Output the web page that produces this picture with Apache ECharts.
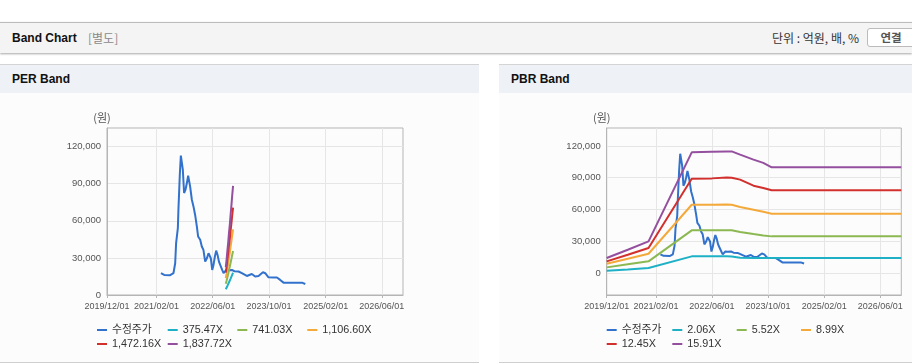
<!DOCTYPE html>
<html><head><meta charset="utf-8">
<script src="https://cdn.jsdelivr.net/npm/echarts@6/dist/echarts.min.js"></script>
<style>
body{margin:0;width:912px;height:364px;position:relative;background:#fff;overflow:hidden;font-family:"Liberation Sans",Arial,"Noto Sans CJK KR",sans-serif}
#topbar{position:absolute;left:0;top:22px;width:912px;height:30px;background:#f4f4f4;border-top:1px solid #bcbcbc;box-shadow:0 1px 2px rgba(0,0,0,0.35)}
#ttl{position:absolute;left:12px;top:0;line-height:30px;font-size:12px;font-weight:bold;color:#111}
#sep{position:absolute;left:88px;top:0;line-height:30px;font-size:12px;color:#8a8a8a;font-family:"Noto Sans CJK KR",sans-serif}
#unit{position:absolute;right:53px;top:0;line-height:30px;font-size:12px;color:#333;font-family:"Noto Sans CJK KR",sans-serif}
#btn{position:absolute;left:867px;top:5px;width:48px;height:19px;border:1px solid #bbb;border-radius:3px;background:#fff;box-sizing:border-box;text-align:center;line-height:17px;font-size:11.5px;font-weight:bold;color:#555;font-family:"Noto Sans CJK KR",sans-serif}
.phead{position:absolute;top:64px;height:28px;background:#eef2f7;border-top:1px solid #d4d4d4}
.phead span{position:absolute;left:12px;top:0;line-height:28px;font-size:12px;font-weight:bold;color:#111}
.pbody{position:absolute;top:93px;height:269px;background:#fcfcfc;border-bottom:1px solid #cfcfcf}
</style></head>
<body>
<div id="topbar"><span id="ttl">Band Chart</span><span id="sep">[별도]</span><span id="unit">단위 : 억원, 배, %</span><div id="btn">연결</div></div>
<div class="phead" style="left:0;width:479px"><span>PER Band</span></div>
<div class="phead" style="left:499px;width:413px"><span>PBR Band</span></div>
<div class="pbody" style="left:0;width:479px"><div id="per" style="width:479px;height:269px"></div></div>
<div class="pbody" style="left:499px;width:413px"><div id="pbr" style="width:413px;height:269px"></div></div>
<script>
// ---- data ----
const xTickDates = ['2019-12-01','2021-02-01','2022-06-01','2023-10-01','2025-02-01','2026-06-01'];
const xMin = '2019-12-01';
const xMax = '2026-12-01';
const yTicks = [0, 30000, 60000, 90000, 120000];

const priceName = '수정주가';
const priceDates = ['2021-03-11','2021-04-08','2021-05-30','2021-06-27','2021-07-12','2021-07-20','2021-08-04','2021-08-09','2021-08-21','2021-08-30','2021-09-10','2021-09-16','2021-09-21','2021-09-27','2021-10-09','2021-10-21','2021-11-01','2021-11-10','2021-11-18','2021-12-03','2021-12-17','2021-12-31','2022-01-15','2022-01-26','2022-02-13','2022-02-27','2022-03-13','2022-03-28','2022-04-12','2022-04-26','2022-05-04','2022-05-16','2022-05-28','2022-06-08','2022-06-20','2022-07-01','2022-07-13','2022-07-25','2022-08-05','2022-08-22','2022-09-03','2022-09-17','2022-09-26','2022-10-16','2022-11-14','2022-12-06','2023-01-10','2023-02-08','2023-03-23','2023-05-05','2023-06-03','2023-07-02','2023-08-09','2023-08-29','2023-09-26','2023-11-08','2023-12-08','2024-01-05','2024-02-03','2024-04-01','2024-07-11','2024-07-25','2024-08-09'];
const priceValues = [17600,16200,16000,17600,25700,41900,54000,68900,97300,112700,112000,101300,102000,82400,85100,90500,96500,95000,87800,77000,71600,64900,55400,47300,44600,39200,36500,27000,29700,33800,34300,29700,20300,24300,31100,35900,32400,27000,24300,20300,17600,17600,20300,20000,20300,19200,19000,17600,15400,17000,15000,15400,18400,17600,14300,14100,14100,12200,10000,10000,10000,8900,8900];

const perNames = ['375.47X','741.03X','1,106.60X','1,472.16X','1,837.72X'];
const perDates = ['2022-09-22','2022-09-29','2022-10-06','2022-10-13','2022-10-20','2022-10-27','2022-11-03','2022-11-10','2022-11-17','2022-11-24'];
const per1 = [4600,5800,7300,8600,10300,11600,13300,14800,16500,18000];
const per2 = [9100,11500,14400,17000,20400,23000,26300,29300,32600,35600];
const per3 = [13600,17200,21600,25500,30400,34300,39300,43700,48700,53100];
const per4 = [18100,22800,28700,33900,40500,45600,52300,58100,64800,70700];
const per5 = [22600,28500,35800,42300,50500,57000,65200,72600,80900,88200];

const pbrNames = ['2.06X','5.52X','8.99X','12.45X','15.91X'];
const pbrDates = ['2019-12-01','2020-06-01','2020-11-28','2021-12-08','2022-06-01','2022-10-08','2022-11-20','2023-02-01','2023-05-28','2023-08-21','2023-11-02','2026-12-01'];
const pbr1 = [2200,3400,4700,15700,15700,15700,15500,14500,14200,14200,14200,14200];
const pbr2 = [5300,8200,11000,40300,40300,40300,40300,38700,36800,35500,34600,34600];
const pbr3 = [8800,13500,18200,64500,64500,64600,64500,62400,59800,57800,56000,56000];
const pbr4 = [11000,17300,23600,89100,89400,90300,90000,88200,82500,80300,78100,78100];
const pbr5 = [14200,22000,29900,114000,114600,114900,114900,111800,107100,104000,99800,99800];

const colors = ['#3272cc','#1eb1c6','#8cb852','#f4a93b','#d2302c','#94509e'];

// ---- build ----
function ts(s){const p=s.split('-');return new Date(+p[0],+p[1]-1,+p[2]).getTime();}
function pad(n){return (n<10?'0':'')+n;}
function fmtDate(v){const d=new Date(v);return d.getFullYear()+'/'+pad(d.getMonth()+1)+'/'+pad(d.getDate());}
function zip(ds, vs){return ds.map((d,i)=>[ts(d), vs[i]]);}
const xTickTs = xTickDates.map(ts);

function buildOption(cfg){
  const names=[priceName].concat(cfg.names);
  const series=[{name:priceName,type:'line',data:zip(priceDates,priceValues)}];
  cfg.bands.forEach((b,i)=>series.push({name:cfg.names[i],type:'line',data:zip(cfg.dates,b)}));
  series.forEach((s,i)=>{s.color=colors[i];s.showSymbol=false;s.symbol='none';s.lineStyle={width:2,color:colors[i]};s.emphasis={disabled:true};});
  const legends=names.map((n,i)=>({
    data:[n], left:cfg.legX[i%4], top:(i<4?231:245), padding:0, itemGap:0,
    icon:'rect', itemWidth:10, itemHeight:2, selectedMode:false,
    textStyle:{fontSize:10.8, color:'#333', lineHeight:12, fontFamily:'"Liberation Sans", Arial, "Noto Sans CJK KR", sans-serif'}
  }));
  return {
    animation:false,
    grid:{left:cfg.gl,right:cfg.gr,top:35,bottom:67,show:true,borderColor:'#b5b5b5',borderWidth:1,backgroundColor:'transparent'},
    legend:legends,
    xAxis:{type:'value',min:ts(xMin),max:ts(xMax),
      axisLine:{onZero:false,lineStyle:{color:'#b5b5b5'}},
      axisTick:{show:true,length:3,customValues:xTickTs,lineStyle:{color:'#b5b5b5'}},
      axisLabel:{customValues:xTickTs,formatter:fmtDate,fontSize:9,color:'#555',margin:7,fontFamily:'"Liberation Sans", Arial, sans-serif',hideOverlap:false,showMinLabel:true,showMaxLabel:true},
      splitLine:{show:true,lineStyle:{color:'#e6e6e6',width:1}}},
    yAxis:{type:'value',min:cfg.ymin,max:cfg.ymax,name:'(원)',nameLocation:'end',nameGap:5,
      nameTextStyle:{fontSize:11,color:'#555',padding:[0,10,0,0],fontFamily:'"Noto Sans CJK KR", sans-serif'},
      axisLine:{show:true,onZero:false,lineStyle:{color:'#b5b5b5'}},
      axisTick:{show:false,customValues:yTicks},
      axisLabel:{customValues:yTicks,formatter:v=>Number(v).toLocaleString('en-US'),fontSize:9.5,color:'#555',margin:6,fontFamily:'"Liberation Sans", Arial, sans-serif'},
      splitLine:{show:true,lineStyle:{color:'#e6e6e6',width:1}}},
    series:series
  };
}

const perChart=echarts.init(document.getElementById('per'),null,{renderer:'canvas'});
perChart.setOption(buildOption({names:perNames,dates:perDates,bands:[per1,per2,per3,per4,per5],gl:107,gr:76,ymin:0,ymax:135000,legX:[97,167.7,237.3,307.3]}));
const pbrChart=echarts.init(document.getElementById('pbr'),null,{renderer:'canvas'});
pbrChart.setOption(buildOption({names:pbrNames,dates:pbrDates,bands:[pbr1,pbr2,pbr3,pbr4,pbr5],gl:107.7,gr:10.7,ymin:-20800,ymax:137000,legX:[107.7,173.3,237.7,302]}));
</script>
</body></html>
